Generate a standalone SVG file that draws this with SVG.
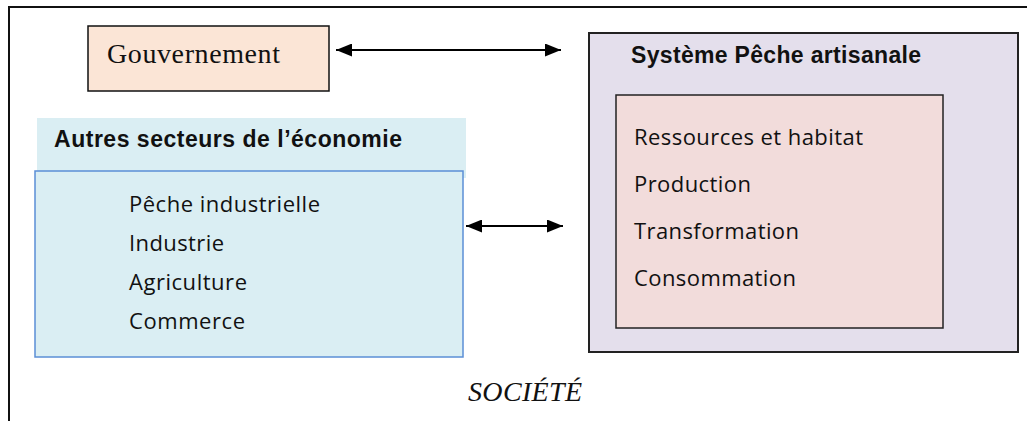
<svg xmlns="http://www.w3.org/2000/svg" width="1027" height="421" viewBox="0 0 1027 421">
<defs>
<marker id="ah" viewBox="0 0 16 13" refX="16" refY="6.5" markerWidth="16" markerHeight="13" markerUnits="userSpaceOnUse" orient="auto-start-reverse">
<path d="M0,0 L16,6.5 L0,13 Z" fill="#000"/>
</marker>
<style>
.frame{fill:none;stroke:#111;stroke-width:2}
.head{font-family:"Liberation Sans",Arial,sans-serif;font-weight:bold;font-size:23px;fill:#111}
.item{font-family:"Open Sans","Noto Sans",sans-serif;font-size:22px;fill:#111}
.conn{stroke:#000;stroke-width:2;fill:none}
</style>
</defs>
<rect width="1027" height="421" fill="#fff"/>
<path class="frame" d="M9,421 L9,7 L1027,7"/>
<g id="gouvernement">
<rect x="88" y="26" width="241" height="65" fill="#fbe5d6" stroke="#111" stroke-width="1.5"/>
<text x="107" y="63" font-family="Liberation Serif,'Times New Roman',serif" font-size="28" fill="#111" textLength="173">Gouvernement</text>
</g>
<g id="autres-secteurs">
<rect x="37" y="118" width="429" height="60" fill="#daeef3"/>
<text class="head" x="54" y="147" textLength="348">Autres secteurs de l’économie</text>
<rect x="35" y="171" width="428" height="186" fill="#daeef3" stroke="#5b8fd6" stroke-width="1.5"/>
<text class="item" x="129" y="212" textLength="191">Pêche industrielle</text>
<text class="item" x="129" y="251" textLength="95">Industrie</text>
<text class="item" x="129" y="290" textLength="118">Agriculture</text>
<text class="item" x="129" y="329" textLength="116">Commerce</text>
</g>
<g id="systeme-peche">
<rect x="589" y="33" width="429" height="319" fill="#e4dfec" stroke="#222" stroke-width="2"/>
<text class="head" x="631" y="63" textLength="290">Système Pêche artisanale</text>
<rect x="616" y="95" width="327" height="233" fill="#f2dcdb" stroke="#222" stroke-width="1.5"/>
<text class="item" x="634" y="145" textLength="229">Ressources et habitat</text>
<text class="item" x="634" y="192" textLength="117">Production</text>
<text class="item" x="634" y="239" textLength="165">Transformation</text>
<text class="item" x="634" y="286" textLength="162">Consommation</text>
</g>
<g id="societe">
<text x="468" y="401" font-family="Liberation Serif,'Times New Roman',serif" font-style="italic" font-size="28" fill="#111" textLength="114">SOCIÉTÉ</text>
</g>
<g id="connectors">
<line class="conn" x1="336" y1="50" x2="561" y2="50" marker-start="url(#ah)" marker-end="url(#ah)"/>
<line class="conn" x1="466" y1="226" x2="563" y2="226" marker-start="url(#ah)" marker-end="url(#ah)"/>
</g>
</svg>
